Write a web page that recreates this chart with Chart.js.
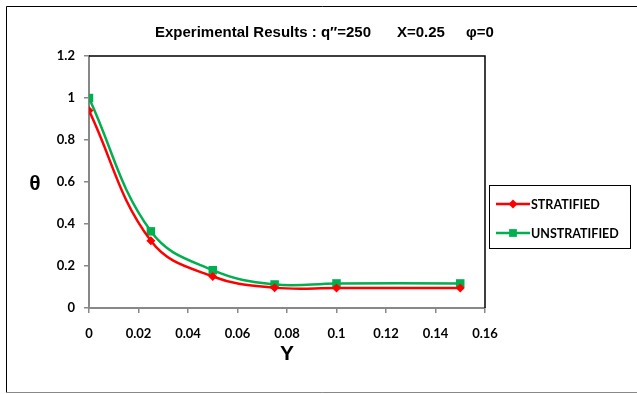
<!DOCTYPE html>
<html>
<head>
<meta charset="utf-8">
<script src="https://cdn.jsdelivr.net/npm/chart.js@4"></script>
<style>
	html, body { margin: 0; padding: 0; background: #fff; overflow: hidden; }
	#wrap { width: 637px; height: 394px; position: relative; }
</style>
</head>
<body>
<div id="wrap"><canvas id="cnv_theta"></canvas></div>
<script>
// Y positions (x axis)
const yPositions = [0, 0.025, 0.05, 0.075, 0.1, 0.15];
// theta values
const stratified = [0.94, 0.32, 0.15, 0.097, 0.095, 0.095];
const unstratified = [1.0, 0.365, 0.18, 0.112, 0.117, 0.117];

const xTicks = [0, 0.02, 0.04, 0.06, 0.08, 0.1, 0.12, 0.14, 0.16];
const yTicks = [0, 0.2, 0.4, 0.6, 0.8, 1, 1.2];

const RED = "#FF0000";
const GREEN = "#00B050";
const tickFont = { family: "Lato", weight: "bold", size: 13 };

//Extra drawing: frame, titles, legend
const decorations = {
	id: "decorations",
	afterDraw(chart) {
		const ctx = chart.ctx;
		const area = chart.chartArea;
		ctx.save();
		// outer chart border
		ctx.strokeStyle = "#000";
		ctx.lineWidth = 1;
		ctx.beginPath();
		ctx.moveTo(660, 6.5); ctx.lineTo(6.5, 6.5); ctx.lineTo(6.5, 392.5);
		ctx.stroke();
		ctx.strokeStyle = "#888";
		ctx.beginPath();
		ctx.moveTo(6.5, 392.5); ctx.lineTo(660, 392.5);
		ctx.stroke();
		// plot area top + right
		ctx.strokeStyle = "#000";
		ctx.lineWidth = 1.5;
		ctx.beginPath();
		ctx.moveTo(area.left, area.top); ctx.lineTo(area.right, area.top); ctx.lineTo(area.right, area.bottom);
		ctx.stroke();

		// title
		ctx.fillStyle = "#000";
		ctx.textBaseline = "middle";
		ctx.textAlign = "left";
		ctx.font = "bold 15px 'Liberation Sans', Arial";
		ctx.fillText("Experimental Results : q\u2033=250", 155, 33);
		ctx.fillText("X=0.25", 397, 33);
		ctx.fillText("\u03C6=0", 466, 33);

		// axis titles
		ctx.textAlign = "center";
		ctx.font = "bold 21px 'Liberation Sans', Arial";
		ctx.fillText("\u03B8", 35, 184);
		ctx.fillText("Y", 287, 354);

		// legend
		ctx.strokeStyle = "#000";
		ctx.lineWidth = 1;
		ctx.strokeRect(489.5, 185.5, 141, 63);
		const items = [
			{ text: "STRATIFIED", color: RED, style: "rectRot", r: 4.5, y: 204 },
			{ text: "UNSTRATIFIED", color: GREEN, style: "rect", r: 5.5, y: 233 }
		];
		ctx.font = "bold 12.5px Lato";
		ctx.textAlign = "left";
		items.forEach(item => {
			ctx.strokeStyle = item.color;
			ctx.lineWidth = 2.5;
			ctx.beginPath();
			ctx.moveTo(496, item.y); ctx.lineTo(530, item.y);
			ctx.stroke();
			ctx.fillStyle = item.color;
			Chart.helpers.drawPoint(ctx, { pointStyle: item.style, radius: item.r, borderWidth: 0 }, 513, item.y);
			ctx.fillStyle = "#000";
			ctx.fillText(item.text, 531, item.y + 1);
		});
		ctx.restore();
	}
};

const ctx = document.getElementById("cnv_theta").getContext("2d");
new Chart(ctx, {
	type: "scatter",
	plugins: [decorations],
	data: {
		datasets: [{
			label: "STRATIFIED",
			data: yPositions.map((x, i) => ({ x: x, y: stratified[i] })),
			showLine: true,
			borderColor: RED,
			backgroundColor: RED,
			borderWidth: 2.5,
			pointStyle: "rectRot",
			pointRadius: 4.5,
			pointBorderWidth: 0,
			tension: 0.4,
			order: 1
		}, {
			label: "UNSTRATIFIED",
			data: yPositions.map((x, i) => ({ x: x, y: unstratified[i] })),
			showLine: true,
			borderColor: GREEN,
			backgroundColor: GREEN,
			borderWidth: 2.5,
			pointStyle: "rect",
			pointRadius: 6,
			pointBorderWidth: 0,
			tension: 0.4,
			order: 2
		}]
	},
	options: {
		responsive: true,
		maintainAspectRatio: false,
		animation: false,
		layout: { padding: { left: 0, top: 56, right: 152, bottom: 0 } },
		plugins: {
			legend: { display: false },
			tooltip: { enabled: false }
		},
		scales: {
			x: {
				type: "linear",
				min: 0,
				max: 0.16,
				afterBuildTicks: scale => { scale.ticks = xTicks.map(v => ({ value: v })); },
				afterFit: scale => { scale.height = 86; },
				border: { color: "#888", width: 2 },
				grid: { drawOnChartArea: false, color: "#888", tickLength: 5, lineWidth: 1.5 },
				ticks: {
					color: "#000",
					font: tickFont,
					padding: 13,
					maxRotation: 0,
					callback: v => String(+v.toFixed(2))
				}
			},
			y: {
				min: 0,
				max: 1.2,
				afterBuildTicks: scale => { scale.ticks = yTicks.map(v => ({ value: v })); },
				afterFit: scale => { scale.width = 89; },
				border: { color: "#888", width: 2 },
				grid: { drawOnChartArea: false, color: "#888", tickLength: 5, lineWidth: 1.5 },
				ticks: {
					color: "#000",
					font: tickFont,
					padding: 9,
					callback: v => String(+v.toFixed(1))
				}
			}
		}
	}
});
</script>
</body>
</html>
